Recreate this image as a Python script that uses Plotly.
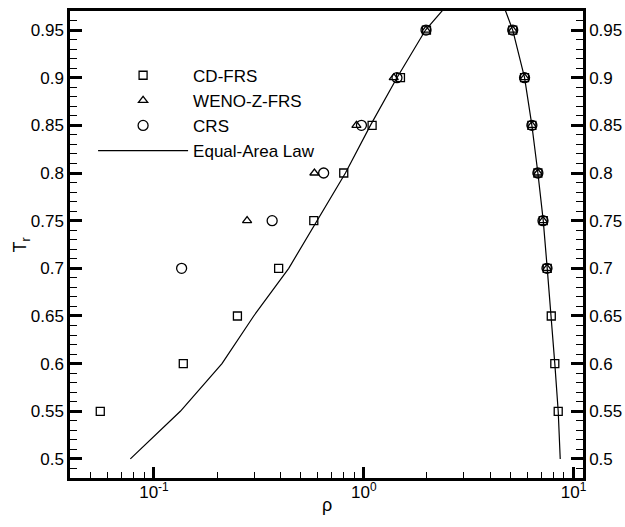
import plotly.graph_objects as go

# CD-FRS: vapour (left) and liquid (right) branch densities
cd_T = [0.55, 0.6, 0.65, 0.7, 0.75, 0.8, 0.85, 0.9, 0.95,
        0.95, 0.9, 0.85, 0.8, 0.75, 0.7, 0.65, 0.6, 0.55]
cd_rho = [0.0555, 0.138, 0.250, 0.393, 0.578, 0.803, 1.096, 1.496, 1.99,
          5.13, 5.84, 6.33, 6.76, 7.17, 7.49, 7.83, 8.14, 8.45]

# WENO-Z-FRS
wz_T = [0.75, 0.8, 0.85, 0.9, 0.95,
        0.95, 0.9, 0.85, 0.8, 0.75, 0.7]
wz_rho = [0.278, 0.582, 0.923, 1.39, 1.98,
          5.13, 5.84, 6.33, 6.76, 7.15, 7.47]

# CRS
crs_T = [0.7, 0.75, 0.8, 0.85, 0.9, 0.95,
         0.95, 0.9, 0.85, 0.8, 0.75, 0.7]
crs_rho = [0.1355, 0.366, 0.644, 0.975, 1.44, 1.98,
           5.13, 5.84, 6.33, 6.76, 7.15, 7.47]

# Equal-area (Maxwell) coexistence curve
eal_T = [0.5, 0.55, 0.6, 0.65, 0.7, 0.75, 0.8, 0.85, 0.9, 0.95, 0.975,
         0.975, 0.95, 0.9, 0.85, 0.8, 0.75, 0.7, 0.65, 0.6, 0.55, 0.5]
eal_rho = [0.0772, 0.1336, 0.211, 0.299, 0.439, 0.597, 0.818, 1.076, 1.44, 1.97, 2.47,
           4.65, 5.13, 5.84, 6.33, 6.76, 7.17, 7.49, 7.83, 8.14, 8.45, 8.64]

# Axis ticks
y_ticks = [0.5, 0.55, 0.6, 0.65, 0.7, 0.75, 0.8, 0.85, 0.9, 0.95]
y_ticktext = ["0.5", "0.55", "0.6", "0.65", "0.7", "0.75", "0.8", "0.85", "0.9", "0.95"]
x_ticks = [0.1, 1, 10]
x_ticktext = ["10<sup>-1</sup>", "10<sup>0</sup>", "10<sup>1</sup>"]
x_minor = [0.05, 0.06, 0.07, 0.08, 0.09,
           0.2, 0.3, 0.4, 0.5, 0.6, 0.7, 0.8, 0.9,
           2, 3, 4, 5, 6, 7, 8, 9]

FONT = "Liberation Sans, Arial, sans-serif"
mk_line = dict(color="black", width=1.3)

fig = go.Figure()
fig.add_trace(go.Scatter(x=cd_rho, y=cd_T, mode="markers", name="CD-FRS",
                         marker=dict(symbol="square-open", size=8, color="black", line=mk_line)))
fig.add_trace(go.Scatter(x=wz_rho, y=wz_T, mode="markers", name="WENO-Z-FRS",
                         marker=dict(symbol="triangle-up-open", size=8, color="black", line=mk_line)))
fig.add_trace(go.Scatter(x=crs_rho, y=crs_T, mode="markers", name="CRS",
                         marker=dict(symbol="circle-open", size=10, color="black", line=mk_line)))
fig.add_trace(go.Scatter(x=eal_rho, y=eal_T, mode="lines", name="Equal-Area Law",
                         line=dict(color="black", width=1.2)))
# carrier for the right-hand T axis
fig.add_trace(go.Scatter(x=[1], y=[0.7], yaxis="y2", mode="markers", showlegend=False,
                         marker=dict(opacity=0), hoverinfo="skip"))

y_common = dict(
    range=[0.48, 0.97], automargin=False,
    showgrid=False, zeroline=False,
    showline=True, linecolor="black", linewidth=2.5,
    ticks="inside", ticklen=12, tickwidth=2.5, tickcolor="black",
    tickmode="array", tickvals=y_ticks, ticktext=y_ticktext,
    minor=dict(ticks="inside", ticklen=7, tickwidth=1.2, tickcolor="black", dtick=0.01),
    tickfont=dict(family=FONT, size=17),
)

fig.update_layout(
    width=625, height=527,
    margin=dict(l=70, r=42, t=11, b=49),
    paper_bgcolor="white", plot_bgcolor="white",
    font=dict(family=FONT, size=17, color="black"),
    showlegend=True,
    legend=dict(x=0.045, y=0.90, xanchor="left", yanchor="top",
                bgcolor="rgba(0,0,0,0)", borderwidth=0, itemwidth=90,
                font=dict(family=FONT, size=17)),
    xaxis=dict(
        type="log", range=[-1.4, 1.045], automargin=False,
        showgrid=False, zeroline=False,
        showline=True, linecolor="black", linewidth=2.5, mirror=True,
        ticks="inside", ticklen=11, tickwidth=2.5, tickcolor="black",
        tickmode="array", tickvals=x_ticks, ticktext=x_ticktext,
        ticklabelstandoff=-3,
        minor=dict(ticks="inside", ticklen=6, tickwidth=1.2, tickcolor="black",
                   tickmode="array", tickvals=x_minor),
        tickfont=dict(family=FONT, size=17),
    ),
    yaxis=y_common,
    yaxis2=dict(overlaying="y", side="right", matches="y", **y_common),
    annotations=[
        dict(text="ρ", xref="paper", yref="paper", x=0.501, y=-0.0585,
             xanchor="center", yanchor="middle", showarrow=False,
             font=dict(family=FONT, size=18)),
        dict(text="T<sub>r</sub>", xref="paper", yref="paper", x=-0.0936, y=0.50,
             xanchor="center", yanchor="middle", showarrow=False, textangle=-90,
             font=dict(family=FONT, size=18)),
    ],
)

fig.write_html("out.html")
